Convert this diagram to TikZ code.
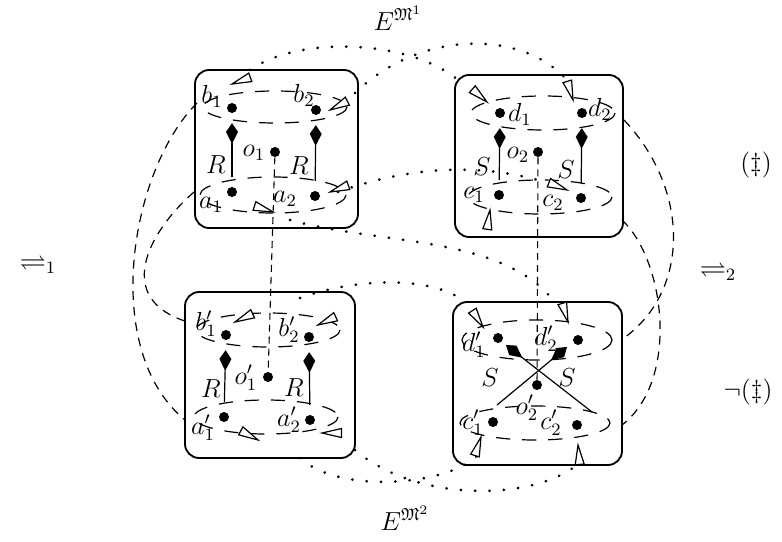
\documentclass[tikz,border=0pt]{standalone}
\usepackage{amsmath,amssymb}
\usetikzlibrary{arrows.meta}
\tikzset{
  elem/.style={circle, fill, inner sep=0pt, minimum size=4.6pt},
  cell/.style={rounded corners=6.5pt, line width=0.85pt},
  cyc/.style={dash pattern=on 6.5pt off 5.5pt, line width=0.55pt},
  link/.style={dash pattern=on 4pt off 3.2pt, line width=0.55pt},
  axis/.style={dash pattern=on 3.2pt off 2.3pt, line width=0.5pt},
  rel/.style={dash pattern=on 0.1pt off 6.5pt, line width=1.3pt, line cap=round},
  rarr/.style={line width=0.55pt, -{Kite[length=9.5pt,width=5.5pt,inset=5.5pt]}},
  rise/.style={rarr, shorten <=4.5pt, shorten >=4.5pt},
  tri/.style={line width=0.55pt, fill=white, line join=miter},
}
\newcommand{\cyctri}[2]{\draw[tri] (#1) -- +({#2+193}:20) -- +({#2+167}:20) -- cycle;}
\begin{document}
\begin{tikzpicture}[x=0.46pt,y=-0.46pt, every node/.style={font=\large}]
  \useasboundingbox (0,0) rectangle (782,542);
  \draw[cell] (195,70) rectangle (358,228);
  \draw[cell] (455,75) rectangle (623,237);
  \draw[cell] (185,292) rectangle (355,458);
  \draw[cell] (453,302) rectangle (622,465);
  % cycles
  \draw[cyc] (275,107) ellipse (72 and 16);
  \draw[cyc] (273,195) ellipse (73 and 18);
  \draw[cyc] (543,113) ellipse (72 and 17);
  \draw[cyc] (540,197) ellipse (72 and 17);
  \draw[cyc] (268,330) ellipse (72 and 17);
  \draw[cyc] (266,417) ellipse (72 and 17);
  \draw[cyc] (537,340) ellipse (75 and 20);
  \draw[cyc] (535,423) ellipse (75 and 17);
  % elements
  \node[elem] (b1) at (232,108) {};
  \node[elem] (b2) at (316,110) {};
  \node[elem] (o1) at (275,152) {};
  \node[elem] (a1) at (232,192) {};
  \node[elem] (a2) at (315,196) {};
  \node[elem] (d1) at (500,113) {};
  \node[elem] (d2) at (582,113) {};
  \node[elem] (o2) at (538,152) {};
  \node[elem] (c1) at (499,195) {};
  \node[elem] (c2) at (581,198) {};
  \node[elem] (b1p) at (226,335) {};
  \node[elem] (b2p) at (309,337) {};
  \node[elem] (o1p) at (268,377) {};
  \node[elem] (a1p) at (224,417) {};
  \node[elem] (a2p) at (310,420) {};
  \node[elem] (d1p) at (498,338) {};
  \node[elem] (d2p) at (578,340) {};
  \node[elem] (o2p) at (537,385) {};
  \node[elem] (c1p) at (493,422) {};
  \node[elem] (c2p) at (577,425) {};
  % links between boxes
  \coordinate (wb1) at (197,103);  \coordinate (wa1p) at (185,420);
  \coordinate (wa1) at (194,192);  \coordinate (wb1p) at (188,322);
  \coordinate (ed2) at (624,120);  \coordinate (ed2p) at (624,338);
  \coordinate (ec2) at (622,220);  \coordinate (ec2p) at (622,425);
  \draw[link] (wb1) .. controls (130,170) and (100,350) .. (wa1p);
  \draw[link] (wa1) .. controls (145,235) and (115,300) .. (wb1p);
  \draw[link] (ed2) .. controls (690,190) and (690,290) .. (ed2p);
  \draw[link] (ec2) .. controls (665,260) and (680,380) .. (ec2p);
  \draw[axis] (o1) -- (o1p);
  \draw[axis] (o2) -- (o2p);
  \coordinate (nb1) at (250,70);   \coordinate (nd1) at (458,80);
  \coordinate (nb2) at (355,93);   \coordinate (nd2) at (565,78);
  \coordinate (ma2) at (338,192);  \coordinate (mc2) at (545,182);
  \coordinate (ma1) at (290,220);  \coordinate (md2p) at (553,300);
  \coordinate (mb2p) at (300,298); \coordinate (md1p) at (458,297);
  \coordinate (sa1p) at (300,458); \coordinate (sc1p) at (478,455);
  \coordinate (sa2p) at (355,450); \coordinate (sc2p) at (580,462);
  \draw[rel] (nb1) .. controls (300,35) and (410,40) .. (nd1);
  \draw[rel] (nb2) .. controls (420,30) and (520,30) .. (nd2);
  \draw[rel] (ma2) .. controls (400,170) and (470,160) .. (mc2);
  \draw[rel] (ma1) .. controls (380,245) and (500,235) .. (md2p);
  \draw[rel] (mb2p) .. controls (350,280) and (420,275) .. (md1p);
  \draw[rel] (sa1p) .. controls (340,495) and (450,485) .. (sc1p);
  \draw[rel] (sa2p) .. controls (420,505) and (540,500) .. (sc2p);
  % cycle directions
  \cyctri{232,84}{160} \cyctri{330,110}{153} \cyctri{273,212}{18} \cyctri{330,192}{160}
  \cyctri{487,102}{41} \cyctri{573,100}{73} \cyctri{567,190}{22} \cyctri{490,210}{278}
  \cyctri{235,322}{155} \cyctri{318,325}{155} \cyctri{258,440}{28} \cyctri{322,433}{180}
  \cyctri{483,327}{57} \cyctri{568,322}{73} \cyctri{481,437}{288} \cyctri{578,445}{265}
  % relations R and S
  \draw[rise] (a1) -- (b1);
  \draw[rise] (a2) -- (b2);
  \draw[rise] (c1) -- (d1);
  \draw[rise] (c2) -- (d2);
  \draw[rise] (a1p) -- (b1p);
  \draw[rise] (a2p) -- (b2p);
  \coordinate (sc1) at (497,405);  \coordinate (sd2) at (567,347);
  \coordinate (sc2) at (592,412);  \coordinate (sd1) at (506,345);
  \draw[rarr] (sc1) -- (sd2);
  \draw[rarr] (sc2) -- (sd1);
  % labels
  \node (b1l) at (212,96) {$b_1$};
  \node (b2l) at (304,95) {$b_2$};
  \node (o1l) at (254,153) {$o_1$};
  \node (a1l) at (211,205) {$a_1$};
  \node (a2l) at (285,199) {$a_2$};
  \node (r1l) at (216,165) {$R$};
  \node (r2l) at (299,166) {$R$};
  \node (d1l) at (520,114) {$d_1$};
  \node (d2l) at (600,109) {$d_2$};
  \node (o2l) at (518,155) {$o_2$};
  \node (c1l) at (474,195) {$c_1$};
  \node (c2l) at (553,203) {$c_2$};
  \node (s1l) at (482,167) {$S$};
  \node (s2l) at (566,170) {$S$};
  \node (b1pl) at (206,324) {$b'_1$};
  \node (b2pl) at (289,330) {$b'_2$};
  \node (o1pl) at (246,378) {$o'_1$};
  \node (a1pl) at (203,428) {$a'_1$};
  \node (a2pl) at (289,420) {$a'_2$};
  \node (r3l) at (211,389) {$R$};
  \node (r4l) at (294,388) {$R$};
  \node (d1pl) at (474,345) {$d'_1$};
  \node (d2pl) at (546,339) {$d'_2$};
  \node (o2pl) at (527,408) {$o'_2$};
  \node (c1pl) at (473,423) {$c'_1$};
  \node (c2pl) at (551,423) {$c'_2$};
  \node (s3l) at (490,378) {$S$};
  \node (s4l) at (567,378) {$S$};
  \node (em1) at (398,18) {$E^{\mathfrak{M}^1}$};
  \node (em2) at (405,518) {$E^{\mathfrak{M}^2}$};
  \node (eq1) at (38,265) {$\rightleftharpoons_1$};
  \node (eq2) at (718,272) {$\rightleftharpoons_2$};
  \node (dg) at (756,165) {$(\ddagger)$};
  \node (ndg) at (748,392) {$\neg(\ddagger)$};
\end{tikzpicture}
\end{document}
